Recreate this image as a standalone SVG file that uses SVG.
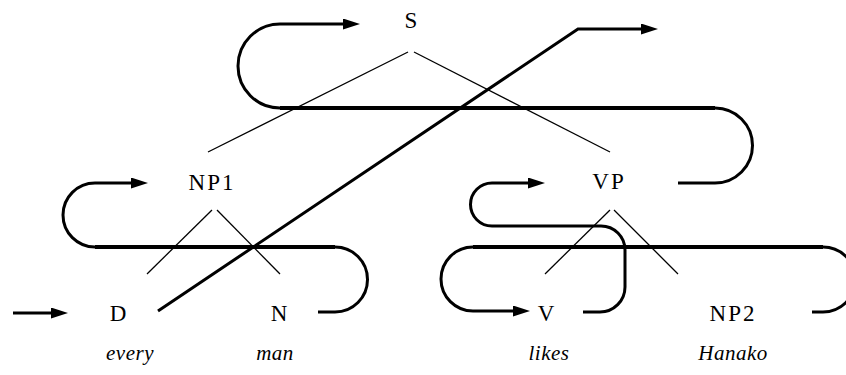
<svg xmlns="http://www.w3.org/2000/svg" width="846" height="375" viewBox="0 0 846 375">
<defs>
<style>
.lbl{font-family:"Liberation Serif","Times New Roman",serif;font-size:23px;fill:#000;text-anchor:middle;letter-spacing:2px}
.word{font-family:"Liberation Serif","Times New Roman",serif;font-size:21px;font-style:italic;fill:#000;text-anchor:middle;letter-spacing:0.5px}
.tree{stroke:#000;stroke-width:1.3;fill:none}
.flow{stroke:#000;stroke-width:3;fill:none}
.bar{stroke:#000;stroke-width:4;fill:none}
</style>
<marker id="ah" markerUnits="userSpaceOnUse" markerWidth="17" markerHeight="11" refX="7" refY="5.5" orient="auto">
<path d="M0,0 L17,5.5 L0,11 z" fill="#000"/>
</marker>
</defs>
<rect width="846" height="375" fill="#fff"/>
<g id="connectors">
<line class="tree" x1="408" y1="52" x2="208" y2="152"/>
<line class="tree" x1="414" y1="52" x2="610" y2="152"/>
<line class="tree" x1="212" y1="210" x2="147" y2="274"/>
<line class="tree" x1="217" y1="210" x2="280" y2="274"/>
<line class="tree" x1="610" y1="210" x2="545" y2="274"/>
<line class="tree" x1="614" y1="210" x2="678" y2="274"/>
<path class="flow" d="M13,313 H58" marker-end="url(#ah)"/>
<path class="flow" d="M158,311 L578,29 H648" marker-end="url(#ah)"/>
<path class="flow" d="M318,312 H335 A32.5,32.5 0 0 0 335,247 H95 A32,32 0 0 1 95,183 H138" marker-end="url(#ah)"/>
<path class="flow" d="M678,183 H715 A37.5,37.5 0 0 0 715,108 H280 A42,42 0 0 1 280,24 H350" marker-end="url(#ah)"/>
<path class="flow" d="M812,312 H823 A32.5,32.5 0 0 0 823,247 H473 A32,32 0 0 0 473,311 H520" marker-end="url(#ah)"/>
<path class="flow" d="M583,312 H600 A25,25 0 0 0 625,287 V250 A24,24 0 0 0 601,226 H492 A21.5,21.5 0 0 1 492,183 H535" marker-end="url(#ah)"/>
<path class="bar" d="M280,108 H715 M95,247 H335 M473,247 H823"/>
</g>
<g id="node-S"><text class="lbl" x="412" y="28">S</text></g>
<g id="node-NP1"><text class="lbl" x="212" y="190">NP1</text></g>
<g id="node-VP"><text class="lbl" x="609" y="189">VP</text></g>
<g id="node-D"><text class="lbl" x="119" y="321">D</text></g>
<g id="node-N"><text class="lbl" x="280" y="321">N</text></g>
<g id="node-V"><text class="lbl" x="547" y="321">V</text></g>
<g id="node-NP2"><text class="lbl" x="733" y="321">NP2</text></g>
<g id="word-every"><text class="word" x="130" y="360">every</text></g>
<g id="word-man"><text class="word" x="275" y="360">man</text></g>
<g id="word-likes"><text class="word" x="549" y="360">likes</text></g>
<g id="word-Hanako"><text class="word" x="733" y="360">Hanako</text></g>
</svg>
